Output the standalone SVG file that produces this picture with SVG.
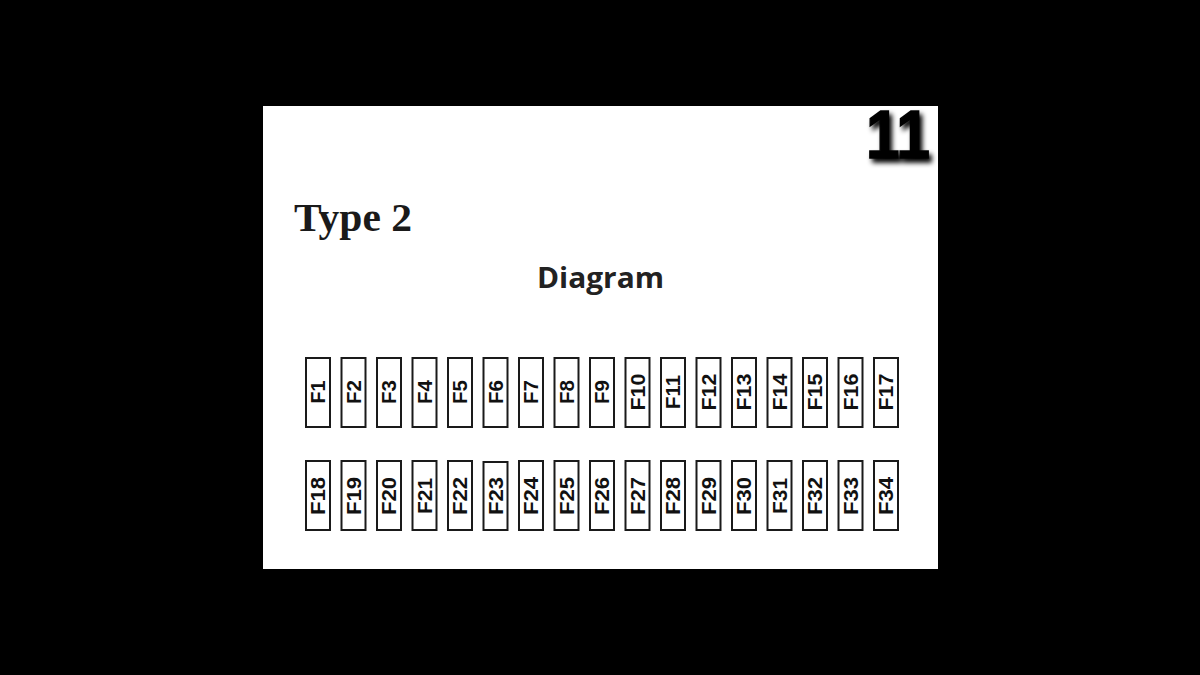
<svg xmlns="http://www.w3.org/2000/svg" width="1200" height="675" viewBox="0 0 1200 675">
<defs>
<filter id="sh" x="-30%" y="-30%" width="160%" height="160%">
<feGaussianBlur in="SourceAlpha" stdDeviation="2.5"/>
<feOffset dx="3" dy="4" result="b"/>
<feMerge><feMergeNode in="b"/><feMergeNode in="SourceGraphic"/></feMerge>
</filter>
</defs>
<style>
.fuse rect{fill:#fff;stroke:#1a1a1a;stroke-width:2}
.fuse text{font-family:"Liberation Sans",Arial,sans-serif;font-weight:bold;font-size:20px;fill:#111;text-anchor:middle;dominant-baseline:central}
</style>
<rect x="0" y="0" width="1200" height="675" fill="#000"/>
<rect x="263" y="106" width="675" height="463" fill="#fff"/>
<text x="866" y="158" font-family="Liberation Sans,Arial,sans-serif" font-weight="bold" font-size="68" fill="#000" stroke="#000" stroke-width="1.5" filter="url(#sh)" textLength="64" lengthAdjust="spacingAndGlyphs">11</text>
<text x="294" y="231" font-family="Liberation Serif,Times New Roman,serif" font-weight="bold" font-size="41" fill="#1a1a1a" textLength="118" lengthAdjust="spacingAndGlyphs">Type 2</text>
<text x="537" y="288" font-family="Open Sans,Liberation Sans,sans-serif" font-weight="bold" font-size="28" fill="#222" textLength="127" lengthAdjust="spacingAndGlyphs">Diagram</text>
<g id="fuses">
<g id="F1" class="fuse"><rect x="306" y="358" width="24" height="69"/><text transform="translate(318,392) rotate(-90)" textLength="23" lengthAdjust="spacingAndGlyphs">F1</text></g>
<g id="F2" class="fuse"><rect x="341.5" y="358" width="24" height="69"/><text transform="translate(353.5,392) rotate(-90)" textLength="24" lengthAdjust="spacingAndGlyphs">F2</text></g>
<g id="F3" class="fuse"><rect x="377" y="358" width="24" height="69"/><text transform="translate(389,392) rotate(-90)" textLength="24" lengthAdjust="spacingAndGlyphs">F3</text></g>
<g id="F4" class="fuse"><rect x="412.5" y="358" width="24" height="69"/><text transform="translate(424.5,392) rotate(-90)" textLength="24" lengthAdjust="spacingAndGlyphs">F4</text></g>
<g id="F5" class="fuse"><rect x="448" y="358" width="24" height="69"/><text transform="translate(460,392) rotate(-90)" textLength="24" lengthAdjust="spacingAndGlyphs">F5</text></g>
<g id="F6" class="fuse"><rect x="483.5" y="358" width="24" height="69"/><text transform="translate(495.5,392) rotate(-90)" textLength="24" lengthAdjust="spacingAndGlyphs">F6</text></g>
<g id="F7" class="fuse"><rect x="519" y="358" width="24" height="69"/><text transform="translate(531,392) rotate(-90)" textLength="24" lengthAdjust="spacingAndGlyphs">F7</text></g>
<g id="F8" class="fuse"><rect x="554.5" y="358" width="24" height="69"/><text transform="translate(566.5,392) rotate(-90)" textLength="24" lengthAdjust="spacingAndGlyphs">F8</text></g>
<g id="F9" class="fuse"><rect x="590" y="358" width="24" height="69"/><text transform="translate(602,392) rotate(-90)" textLength="24" lengthAdjust="spacingAndGlyphs">F9</text></g>
<g id="F10" class="fuse"><rect x="625.5" y="358" width="24" height="69"/><text transform="translate(637.5,392) rotate(-90)" textLength="37" lengthAdjust="spacingAndGlyphs">F10</text></g>
<g id="F11" class="fuse"><rect x="661" y="358" width="24" height="69"/><text transform="translate(673,392) rotate(-90)" textLength="34" lengthAdjust="spacingAndGlyphs">F11</text></g>
<g id="F12" class="fuse"><rect x="696.5" y="358" width="24" height="69"/><text transform="translate(708.5,392) rotate(-90)" textLength="37" lengthAdjust="spacingAndGlyphs">F12</text></g>
<g id="F13" class="fuse"><rect x="732" y="358" width="24" height="69"/><text transform="translate(744,392) rotate(-90)" textLength="37" lengthAdjust="spacingAndGlyphs">F13</text></g>
<g id="F14" class="fuse"><rect x="767.5" y="358" width="24" height="69"/><text transform="translate(779.5,392) rotate(-90)" textLength="37" lengthAdjust="spacingAndGlyphs">F14</text></g>
<g id="F15" class="fuse"><rect x="803" y="358" width="24" height="69"/><text transform="translate(815,392) rotate(-90)" textLength="37" lengthAdjust="spacingAndGlyphs">F15</text></g>
<g id="F16" class="fuse"><rect x="838.5" y="358" width="24" height="69"/><text transform="translate(850.5,392) rotate(-90)" textLength="37" lengthAdjust="spacingAndGlyphs">F16</text></g>
<g id="F17" class="fuse"><rect x="874" y="358" width="24" height="69"/><text transform="translate(886,392) rotate(-90)" textLength="37" lengthAdjust="spacingAndGlyphs">F17</text></g>
<g id="F18" class="fuse"><rect x="306" y="461" width="24" height="69"/><text transform="translate(318,496) rotate(-90)" textLength="38" lengthAdjust="spacingAndGlyphs">F18</text></g>
<g id="F19" class="fuse"><rect x="341.5" y="461" width="24" height="69"/><text transform="translate(353.5,496) rotate(-90)" textLength="38" lengthAdjust="spacingAndGlyphs">F19</text></g>
<g id="F20" class="fuse"><rect x="377" y="461" width="24" height="69"/><text transform="translate(389,496) rotate(-90)" textLength="38" lengthAdjust="spacingAndGlyphs">F20</text></g>
<g id="F21" class="fuse"><rect x="412.5" y="461" width="24" height="69"/><text transform="translate(424.5,496) rotate(-90)" textLength="36" lengthAdjust="spacingAndGlyphs">F21</text></g>
<g id="F22" class="fuse"><rect x="448" y="461" width="24" height="69"/><text transform="translate(460,496) rotate(-90)" textLength="38" lengthAdjust="spacingAndGlyphs">F22</text></g>
<g id="F23" class="fuse"><rect x="483.5" y="462" width="24" height="68"/><text transform="translate(495.5,496) rotate(-90)" textLength="38" lengthAdjust="spacingAndGlyphs">F23</text></g>
<g id="F24" class="fuse"><rect x="519" y="461" width="24" height="69"/><text transform="translate(531,496) rotate(-90)" textLength="38" lengthAdjust="spacingAndGlyphs">F24</text></g>
<g id="F25" class="fuse"><rect x="554.5" y="461" width="24" height="69"/><text transform="translate(566.5,496) rotate(-90)" textLength="38" lengthAdjust="spacingAndGlyphs">F25</text></g>
<g id="F26" class="fuse"><rect x="590" y="461" width="24" height="69"/><text transform="translate(602,496) rotate(-90)" textLength="38" lengthAdjust="spacingAndGlyphs">F26</text></g>
<g id="F27" class="fuse"><rect x="625.5" y="461" width="24" height="69"/><text transform="translate(637.5,496) rotate(-90)" textLength="38" lengthAdjust="spacingAndGlyphs">F27</text></g>
<g id="F28" class="fuse"><rect x="661" y="461" width="24" height="69"/><text transform="translate(673,496) rotate(-90)" textLength="38" lengthAdjust="spacingAndGlyphs">F28</text></g>
<g id="F29" class="fuse"><rect x="696.5" y="461" width="24" height="69"/><text transform="translate(708.5,496) rotate(-90)" textLength="38" lengthAdjust="spacingAndGlyphs">F29</text></g>
<g id="F30" class="fuse"><rect x="732" y="461" width="24" height="69"/><text transform="translate(744,496) rotate(-90)" textLength="38" lengthAdjust="spacingAndGlyphs">F30</text></g>
<g id="F31" class="fuse"><rect x="767.5" y="461" width="24" height="69"/><text transform="translate(779.5,496) rotate(-90)" textLength="36" lengthAdjust="spacingAndGlyphs">F31</text></g>
<g id="F32" class="fuse"><rect x="803" y="461" width="24" height="69"/><text transform="translate(815,496) rotate(-90)" textLength="38" lengthAdjust="spacingAndGlyphs">F32</text></g>
<g id="F33" class="fuse"><rect x="838.5" y="461" width="24" height="69"/><text transform="translate(850.5,496) rotate(-90)" textLength="38" lengthAdjust="spacingAndGlyphs">F33</text></g>
<g id="F34" class="fuse"><rect x="874" y="461" width="24" height="69"/><text transform="translate(886,496) rotate(-90)" textLength="38" lengthAdjust="spacingAndGlyphs">F34</text></g>
</g>
</svg>
